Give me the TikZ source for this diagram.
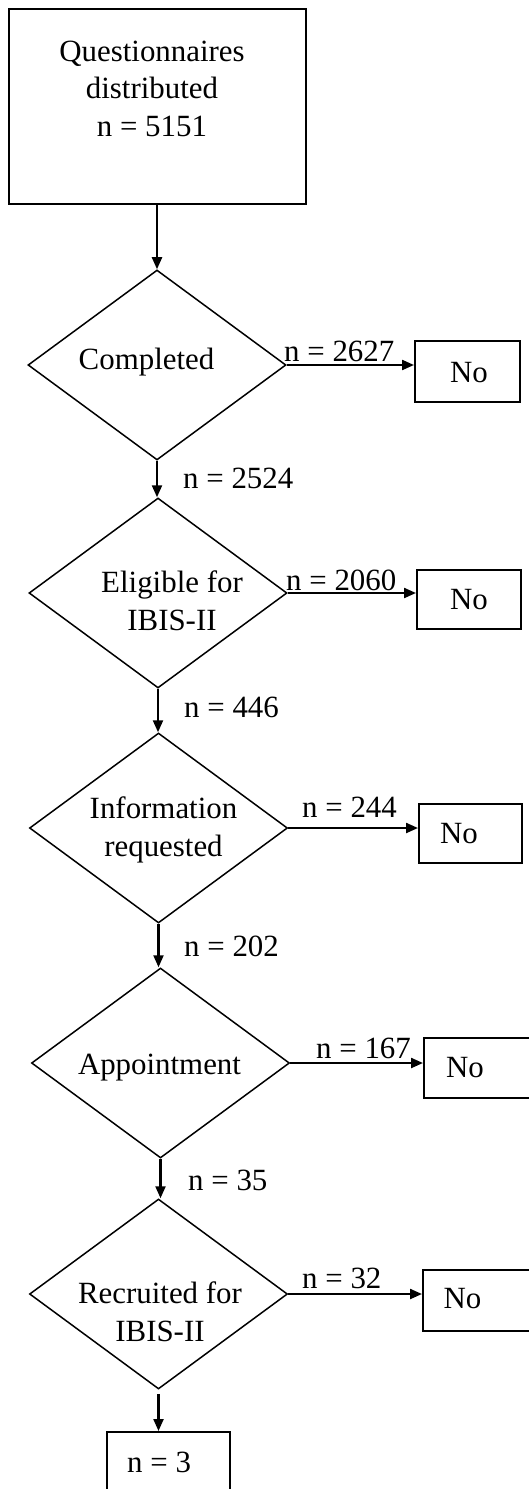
\documentclass[tikz,border=0pt]{standalone}
\usepackage{fontspec}
\setmainfont{Liberation Serif}
\usetikzlibrary{shapes.geometric,arrows.meta}
\begin{document}
\begin{tikzpicture}[x=1bp,y=-1bp,
  every node/.style={font=\fontsize{31}{37.8}\selectfont, inner sep=0pt},
  boxnode/.style={draw, line width=2bp, rectangle},
  decision/.style={draw, line width=1.5bp, diamond, inner sep=0pt, minimum width=258bp, minimum height=190bp},
  arr/.style={line width=2.2bp, -{Triangle[length=12bp,width=10bp]}},
  txt/.style={align=center}
]
\useasboundingbox (0,0) rectangle (529,1489);
\fill[white] (0,0) rectangle (529,1489);

% top box
\node[boxnode, minimum width=297bp, minimum height=195bp] (q) at (157.5,106.5) {};
\node[txt] (qt) at (152,88.6) {Questionnaires\\distributed\\n = 5151};

% decisions
\node[decision] (d1) at (157,365) {};
\node[anchor=base] (d1t) at (146.5,369) {Completed};
\node[decision] (d2) at (158,593) {};
\node[txt] (d2t) at (172,600.6) {Eligible for\\IBIS-II};
\node[decision] (d3) at (158.5,828) {};
\node[txt] (d3t) at (163.5,829.9) {Information\\requested};
\node[decision] (d4) at (160.5,1063) {};
\node[anchor=base] (d4t) at (159.5,1074) {Appointment};
\node[decision] (d5) at (158.5,1294) {};
\node[txt] (d5t) at (160,1311.7) {Recruited for\\IBIS-II};

% No boxes
\node[boxnode, minimum width=105bp, minimum height=61bp] (n1) at (467.5,371.5) {};
\node[anchor=base] (n1t) at (469,382) {No};
\node[boxnode, minimum width=104bp, minimum height=59bp] (n2) at (469,599.5) {};
\node[anchor=base] (n2t) at (469,609) {No};
\node[boxnode, minimum width=103bp, minimum height=59bp] (n3) at (470.5,833.5) {};
\node[anchor=base] (n3t) at (459,843) {No};
\node[boxnode, minimum width=108bp, minimum height=60bp] (n4) at (478,1068) {};
\node[anchor=base] (n4t) at (465,1077) {No};
\node[boxnode, minimum width=108bp, minimum height=61bp] (n5) at (477,1300.5) {};
\node[anchor=base] (n5t) at (462.5,1308) {No};

% result box
\node[boxnode, minimum width=123bp, minimum height=74bp] (r) at (168.5,1469) {};
\node[anchor=base west] (rt) at (127,1472) {n = 3};

% vertical connectors
\draw[arr] (q.south -| d1.north) -- (d1.north);
\draw[arr] (d1.south) -- (d1.south |- d2.north);
\draw[arr] (d2.south) -- (d2.south |- d3.north);
\draw[arr] (d3.south) -- (d3.south |- d4.north);
\draw[arr] (d4.south) -- (d4.south |- d5.north);
\draw[arr, shorten <=4bp] (d5.south) -- (d5.south |- r.north);

% horizontal connectors
\draw[arr] (d1.east) -- (d1.east -| n1.west);
\draw[arr] (d2.east) -- (d2.east -| n2.west);
\draw[arr] (d3.east) -- (d3.east -| n3.west);
\draw[arr] (d4.east) -- (d4.east -| n4.west);
\draw[arr] (d5.east) -- (d5.east -| n5.west);

% labels
\node[anchor=base west] (l1) at (284,361) {n = 2627};
\node[anchor=base west] (l2) at (286,590) {n = 2060};
\node[anchor=base west] (l3) at (302,817) {n = 244};
\node[anchor=base west] (l4) at (316,1058) {n = 167};
\node[anchor=base west] (l5) at (302,1288) {n = 32};
\node[anchor=base west] (v1) at (183,488) {n = 2524};
\node[anchor=base west] (v2) at (184,717) {n = 446};
\node[anchor=base west] (v3) at (184,956) {n = 202};
\node[anchor=base west] (v4) at (188,1190) {n = 35};
\end{tikzpicture}
\end{document}
